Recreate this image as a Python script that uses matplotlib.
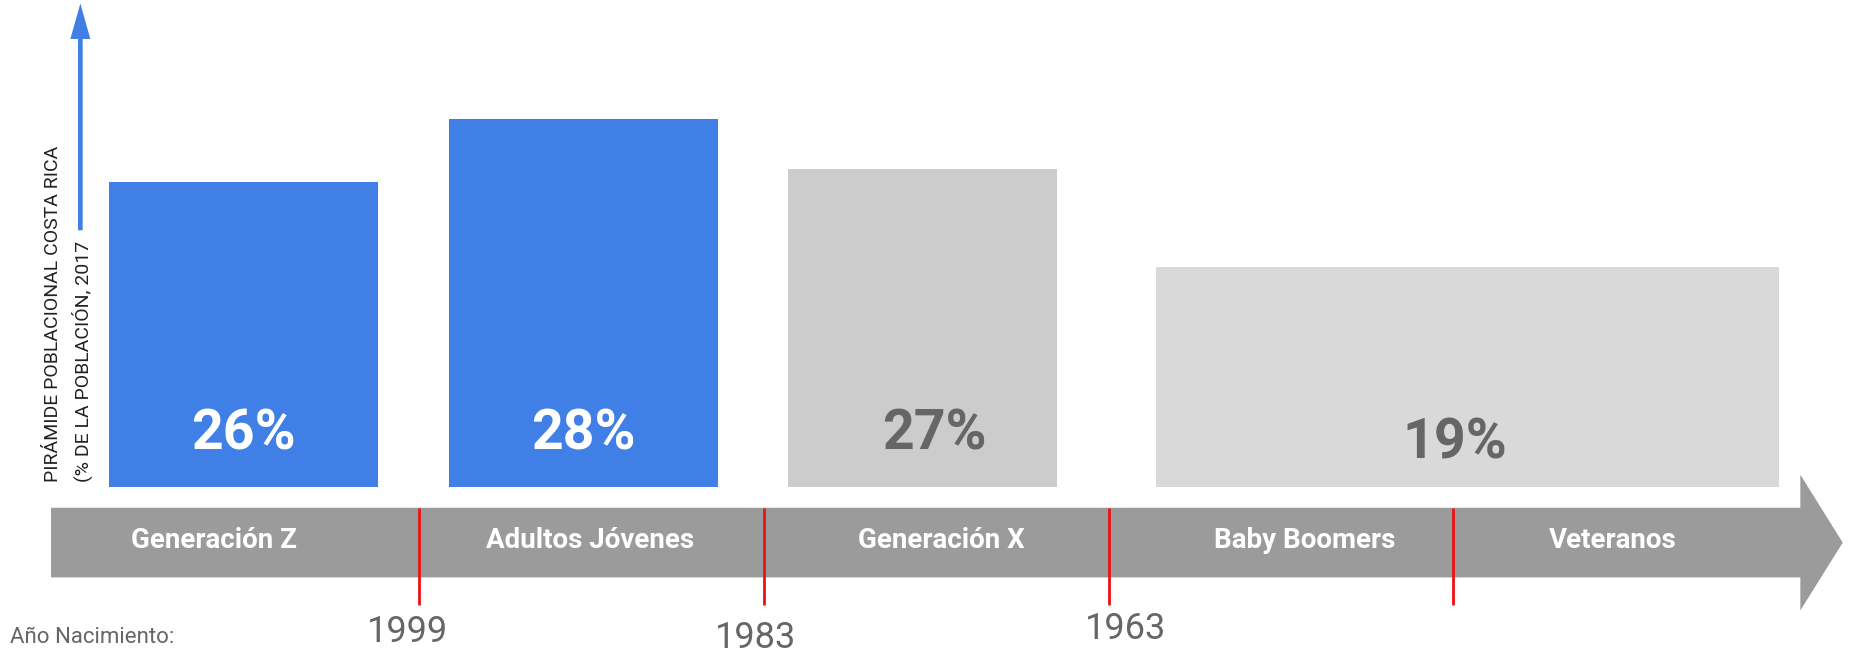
import matplotlib.pyplot as plt
from matplotlib.patches import FancyArrow, Polygon

# data
generations = ["Generación Z", "Adultos Jóvenes", "Generación X", "Baby Boomers", "Veteranos"]
birth_years = ["1999", "1983", "1963"]
shares = [26, 28, 27, 19]            # % de la población
bar_heights = [25.8, 31.2, 26.9, 18.6]  # drawn height of each bar

BLUE = "#3f7fe6"
bar_colors = [BLUE, BLUE, "#cccccc", "#d9d9d9"]
label_colors = ["white", "white", "#666666", "#666666"]
BAND = "#9b9b9b"
RED = "#ee1111"

plt.rcParams['font.family'] = ['Roboto', 'DejaVu Sans']

fig = plt.figure(figsize=(18.51, 6.53), dpi=100)
ax = fig.add_axes([0, 0, 1, 1])
ax.set_xlim(-0.216, 5.154)
ax.set_ylim(-14.05, 41.25)
ax.axis('off')

# bars (x in timeline-segment units)
bar_left = [0.099, 1.086, 2.07, 3.137]
bar_right = [0.88, 1.866, 2.85, 4.945]
label_dx = [0, 0, 0.035, -0.035]
label_y = [4.45, 4.45, 4.45, 3.65]
for l, r, h, s, c, tc, dx, ty in zip(bar_left, bar_right, bar_heights, shares,
                                     bar_colors, label_colors, label_dx, label_y):
    ax.bar(l, h, width=r - l, align='edge', color=c)
    ax.text((l + r) / 2 + dx, ty, f"{s}%", ha='center', va='center',
            fontsize=40, fontweight='bold', color=tc)

# timeline band with arrow head
n = len(generations)
x0, x1 = -0.068, n + 0.007
top, bot = -1.75, -7.65
ax.add_patch(Polygon([(x0, top), (x1, top), (x1, 1.05), (n + 0.13, (top + bot) / 2),
                      (x1, -10.45), (x1, bot), (x0, bot)], closed=True,
                     facecolor=BAND, edgecolor='none'))

label_x = [0.404, 1.497, 2.514, 3.568, 4.462]
for lx, g in zip(label_x, generations):
    ax.text(lx, -4.5, g, ha='center', va='center', fontsize=20,
            fontweight='bold', color='white')

# red separators and birth years
for k in range(1, n):
    ax.plot([k, k], [top, -9.95], color=RED, lw=2, solid_capstyle='butt')
year_dx = [-0.035, -0.025, 0.05]
year_dy = [-12.25, -12.75, -12.05]
for k, (yr, dx, dy) in enumerate(zip(birth_years, year_dx, year_dy), start=1):
    ax.text(k + dx, dy, yr, ha='center', va='center', fontsize=26,
            color='#666666')

ax.text(-0.188, -12.75, "Año Nacimiento:", ha='left', va='center',
        fontsize=16, color='#666666')

# y axis arrow and title
ax.add_patch(FancyArrow(0.0171, 21.75, 0, 19.2, width=0.0135, head_width=0.058,
                        head_length=3.0, length_includes_head=True,
                        color=BLUE, linewidth=0))
ax.text(-0.0616, 0.45, "PIRÁMIDE POBLACIONAL COSTA RICA", rotation=90,
        ha='center', va='bottom', fontsize=14, color='#222222')
ax.text(0.024, 0.45, "(% DE LA POBLACIÓN, 2017", rotation=90,
        ha='center', va='bottom', fontsize=14, color='#222222')

fig.savefig("out.png", dpi=100)
